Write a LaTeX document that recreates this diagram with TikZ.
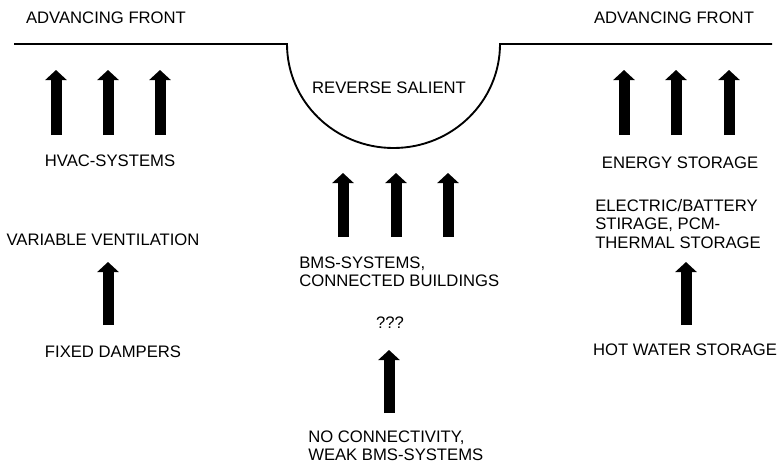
\documentclass[tikz,border=0pt]{standalone}
\usepackage{fontspec}
\setmainfont{Liberation Sans}
\usetikzlibrary{arrows.meta}

\begin{document}
\begin{tikzpicture}[x=0.75pt,y=-0.75pt,
  lbl/.style={inner sep=0pt,font=\fontsize{12.5}{13.8}\selectfont},
  fat/.style={line width=8.25pt,-{Triangle[width=15.75pt,length=7.5pt]}}]
\useasboundingbox (0,0) rectangle (778,468);

% the front, dipping into the salient in the middle
\draw [line width=1.4pt] (14,44) -- (287,44) arc[start angle=180,end angle=0,x radius=106.5,y radius=104] -- (772,44);

\node[lbl] (frontL) at (106,18) {ADVANCING FRONT};
\node[lbl] (frontR) at (674,18) {ADVANCING FRONT};
\node[lbl] (salient) at (389,88) {REVERSE SALIENT};

\node[lbl] (hvac) at (110,161) {HVAC-SYSTEMS};
\node[lbl] (varvent) at (103,240) {VARIABLE VENTILATION};
\node[lbl] (dampers) at (113,352) {FIXED DAMPERS};

\node[lbl,align=left,anchor=west] (bms) at (299,272) {BMS-SYSTEMS,\\CONNECTED BUILDINGS};
\node[lbl] (unknown) at (390,323) {???};
\node[lbl,align=left,anchor=west] (noconn) at (308,446) {NO CONNECTIVITY,\\WEAK BMS-SYSTEMS};

\node[lbl] (storage) at (680,163) {ENERGY STORAGE};
\node[lbl,align=left,anchor=west] (battery) at (595,224) {ELECTRIC/BATTERY\\STIRAGE, PCM-\\THERMAL STORAGE};
\node[lbl] (hotwater) at (685,350) {HOT WATER STORAGE};

% three arrows under each part of the front
\foreach \x/\i in {56/1,108/2,160/3} {
  \coordinate (hvac\i) at (\x,135);
  \coordinate (frontL\i) at (\x,70);
  \draw[fat] (hvac\i) -- (frontL\i);}
\foreach \x/\i in {343/1,396/2,448/3} {
  \coordinate (bms\i) at (\x,237);
  \coordinate (salient\i) at (\x,173);
  \draw[fat] (bms\i) -- (salient\i);}
\foreach \x/\i in {624/1,676/2,729/3} {
  \coordinate (storage\i) at (\x,135);
  \coordinate (frontR\i) at (\x,70);
  \draw[fat] (storage\i) -- (frontR\i);}

% single steps
\coordinate (dampersup) at (108,325);
\coordinate (varventdown) at (108,262);
\draw[fat] (dampersup) -- (varventdown);
\coordinate (noconnup) at (389,413);
\coordinate (unknowndown) at (389,350);
\draw[fat] (noconnup) -- (unknowndown);
\coordinate (hotwaterup) at (686,325);
\coordinate (batterydown) at (686,262);
\draw[fat] (hotwaterup) -- (batterydown);
\end{tikzpicture}
\end{document}
